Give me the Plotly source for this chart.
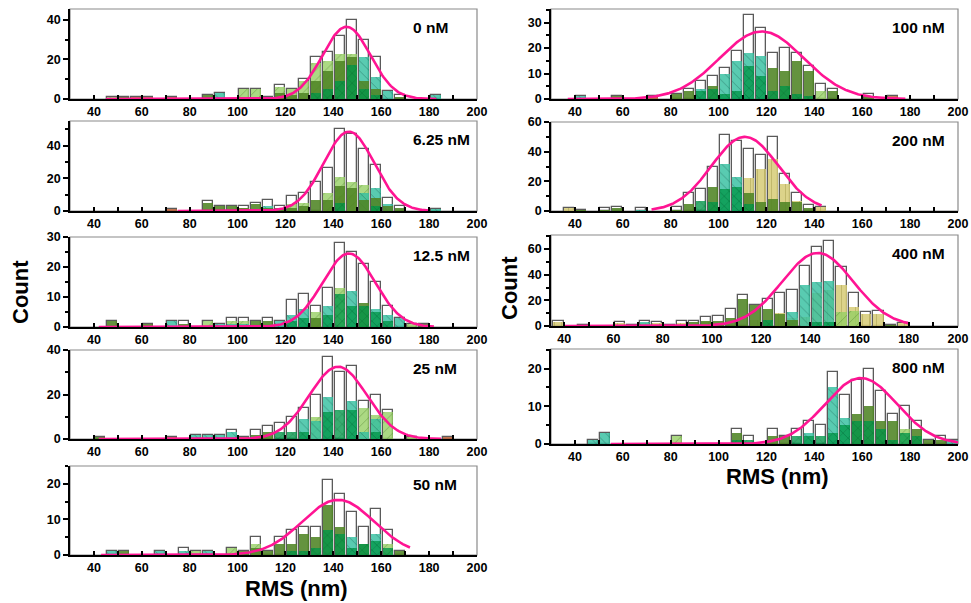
import numpy as np
import plotly.graph_objects as go

# Histogram bins: left edges 35 ... 195 nm, 5 nm wide (33 bins)
BIN_LEFT = list(range(35, 200, 5))

#            35 40 45 50 55 60 65 70 75 80 | 85 90 95 100 ... 130 | 135 ... 180 | 185 190 195
# ---------------- 0 nM ----------------
TOTAL_0 = [0, 0, 1, 1, 1, 1, 0, 1, 0, 0, 2, 3, 0, 5, 5, 1, 7, 5, 10, 21, 24, 32, 40, 30, 21, 4, 2, 0, 0, 2, 0, 0, 0]
LG_0    = [0, 0, 1, 0, 0, 0, 0, 0, 0, 0, 0, 0, 0, 5, 5, 0, 6, 5, 9, 18, 19, 23, 23, 0, 0, 0, 0, 0, 0, 0, 0, 0, 0]
TEAL_0  = [0, 0, 0, 0, 0, 0, 0, 0, 0, 0, 0, 3, 0, 0, 0, 0, 0, 0, 0, 0, 0, 0, 0, 21, 11, 4, 0, 0, 0, 2, 0, 0, 0]
OLIVE_0 = [0, 0, 0, 1, 0, 0, 0, 0, 0, 0, 2, 0, 0, 1, 1, 1, 3, 2, 3, 9, 14, 19, 21, 9, 5, 0, 1, 0, 0, 0, 0, 0, 0]
DARK_0  = [0, 0, 0, 0, 0, 0, 0, 0, 0, 0, 0, 0, 0, 0, 0, 0, 0, 0, 0, 3, 5, 9, 17, 5, 2, 0, 0, 0, 0, 0, 0, 0, 0]
RUST_0  = [0, 0, 0, 0, 1, 1, 0, 1, 0, 0, 0, 0, 0, 0, 0, 0, 0, 0, 0, 0, 0, 0, 0, 0, 0, 0, 0, 0, 0, 0, 0, 0, 0]

# ---------------- 6.25 nM ----------------
TOTAL_625 = [0, 0, 0, 0, 0, 0, 0, 1, 0, 0, 6, 3, 3, 3, 5, 7, 3, 9, 11, 18, 26, 50, 47, 38, 28, 8, 3, 0, 0, 1, 0, 0, 0]
LG_625    = [0, 0, 0, 0, 0, 0, 0, 0, 0, 0, 0, 0, 0, 0, 0, 0, 0, 4, 5, 0, 11, 21, 18, 16, 0, 0, 0, 0, 0, 0, 0, 0, 0]
TEAL_625  = [0, 0, 0, 0, 0, 0, 0, 0, 0, 0, 0, 0, 0, 0, 0, 3, 0, 0, 0, 0, 0, 0, 0, 11, 14, 4, 0, 0, 0, 1, 0, 0, 0]
OLIVE_625 = [0, 0, 0, 0, 0, 0, 0, 0, 0, 0, 5, 3, 3, 2, 4, 2, 2, 2, 3, 7, 7, 15, 14, 7, 8, 3, 2, 0, 0, 0, 0, 0, 0]
KHAKI_625 = [0, 0, 0, 0, 0, 0, 0, 0, 0, 0, 0, 0, 0, 2, 0, 0, 0, 0, 0, 0, 0, 9, 10, 6, 0, 0, 0, 0, 0, 0, 0, 0, 0]
DARK_625  = [0, 0, 0, 0, 0, 0, 0, 0, 0, 0, 0, 0, 0, 0, 0, 0, 0, 0, 0, 0, 0, 5, 0, 0, 3, 0, 0, 0, 0, 0, 0, 0, 0]
RUST_625  = [0, 0, 0, 0, 0, 0, 0, 1, 0, 0, 0, 0, 0, 0, 0, 0, 0, 0, 0, 0, 0, 0, 0, 0, 0, 0, 0, 0, 0, 0, 0, 0, 0]

# ---------------- 12.5 nM ----------------
TOTAL_125 = [0, 0, 2, 0, 0, 1, 0, 2, 2, 0, 2, 1, 3, 3, 2, 3, 2, 9, 11, 7, 13, 28, 25, 21, 15, 7, 3, 1, 1, 0, 0, 0, 0]
LG_125    = [0, 0, 0, 0, 0, 0, 0, 0, 0, 0, 2, 0, 2, 2, 0, 0, 0, 0, 0, 5, 0, 13, 0, 0, 0, 0, 0, 1, 0, 0, 0, 0, 0]
TEAL_125  = [0, 0, 0, 0, 0, 0, 0, 2, 0, 0, 0, 1, 1, 1, 0, 0, 2, 4, 6, 0, 7, 0, 12, 0, 6, 4, 3, 0, 0, 0, 0, 0, 0]
OLIVE_125 = [0, 0, 2, 0, 0, 1, 0, 0, 1, 0, 0, 0, 0, 0, 2, 2, 0, 0, 0, 3, 0, 0, 0, 8, 0, 0, 0, 0, 1, 0, 0, 0, 0]
DARK_125  = [0, 0, 0, 0, 0, 0, 0, 0, 0, 0, 0, 0, 0, 0, 0, 0, 0, 2, 3, 0, 4, 11, 7, 7, 5, 2, 0, 0, 0, 0, 0, 0, 0]

# ---------------- 25 nM ----------------
TOTAL_25 = [0, 1, 0, 0, 0, 0, 0, 1, 0, 2, 2, 2, 4, 1, 4, 6, 7, 10, 14, 20, 37, 30, 33, 17, 20, 13, 0, 1, 0, 0, 1, 0, 0]
LG_25    = [0, 0, 0, 0, 0, 0, 0, 0, 0, 0, 0, 0, 0, 0, 0, 0, 0, 0, 0, 10, 0, 0, 0, 14, 11, 12, 0, 1, 0, 0, 0, 0, 0]
TEAL_25  = [0, 0, 0, 0, 0, 0, 0, 0, 0, 2, 2, 2, 3, 0, 0, 0, 0, 0, 9, 8, 19, 0, 17, 3, 9, 0, 0, 0, 0, 0, 0, 0, 0]
OLIVE_25 = [0, 1, 0, 0, 0, 0, 0, 0, 0, 0, 0, 0, 0, 0, 2, 3, 0, 0, 0, 0, 0, 0, 0, 0, 0, 0, 0, 0, 0, 0, 0, 0, 0]
DARK_25  = [0, 0, 0, 0, 0, 0, 0, 0, 0, 0, 0, 0, 0, 0, 0, 0, 3, 3, 3, 0, 12, 13, 13, 0, 3, 0, 0, 0, 0, 0, 0, 0, 0]
RUST_25  = [0, 0, 0, 0, 0, 0, 0, 1, 0, 0, 0, 0, 0, 1, 0, 0, 0, 0, 0, 0, 0, 0, 0, 0, 0, 0, 0, 0, 0, 0, 1, 0, 0]

# ---------------- 50 nM ----------------
TOTAL_50 = [0, 0, 1, 1, 0, 0, 1, 0, 2, 1, 1, 0, 2, 1, 5, 1, 5, 7, 8, 8, 21, 17, 12, 8, 13, 7, 1, 0, 0, 0, 0, 0, 0]
LG_50    = [0, 0, 0, 0, 0, 0, 0, 0, 0, 1, 0, 0, 2, 0, 3, 0, 0, 0, 0, 0, 0, 0, 0, 0, 0, 3, 0, 0, 0, 0, 0, 0, 0]
TEAL_50  = [0, 0, 1, 0, 0, 0, 1, 0, 1, 0, 1, 0, 0, 0, 0, 0, 0, 0, 0, 0, 0, 0, 5, 0, 6, 0, 0, 0, 0, 0, 0, 0, 0]
OLIVE_50 = [0, 0, 0, 1, 0, 0, 0, 0, 0, 0, 0, 0, 0, 1, 2, 1, 3, 3, 6, 5, 14, 8, 0, 3, 0, 0, 1, 0, 0, 0, 0, 0, 0]
DARK_50  = [0, 0, 0, 0, 0, 0, 0, 0, 0, 0, 0, 0, 0, 0, 0, 0, 0, 1, 1, 2, 7, 6, 2, 3, 4, 2, 0, 0, 0, 0, 0, 0, 0]

# ---------------- 100 nM ----------------
TOTAL_100 = [0, 1, 0, 0, 1, 0, 0, 1, 0, 2, 4, 7, 9, 12, 19, 33, 28, 18, 20, 18, 13, 6, 4, 0, 0, 2, 0, 1, 0, 0, 0, 0, 0]
LG_100    = [0, 0, 0, 0, 0, 0, 0, 0, 0, 0, 0, 0, 0, 0, 0, 0, 0, 0, 0, 0, 0, 3, 0, 0, 0, 0, 0, 0, 0, 0, 0, 0, 0]
TEAL_100  = [0, 1, 0, 0, 0, 0, 0, 0, 0, 0, 0, 4, 0, 10, 15, 18, 17, 0, 0, 0, 0, 0, 0, 0, 0, 0, 0, 0, 0, 0, 0, 0, 0]
OLIVE_100 = [0, 0, 0, 0, 1, 0, 0, 0, 0, 2, 3, 0, 5, 0, 0, 0, 0, 12, 11, 15, 11, 0, 3, 0, 0, 1, 0, 0, 0, 0, 0, 0, 0]
DARK_100  = [0, 0, 0, 0, 0, 0, 0, 0, 0, 0, 0, 3, 4, 2, 3, 13, 9, 3, 5, 2, 1, 0, 0, 0, 0, 0, 0, 0, 0, 0, 0, 0, 0]
RUST_100  = [0, 0, 0, 0, 0, 0, 0, 1, 0, 0, 0, 0, 0, 0, 0, 0, 0, 0, 0, 0, 0, 0, 0, 0, 0, 0, 0, 1, 0, 0, 0, 0, 0]

# ---------------- 200 nM ----------------
TOTAL_200 = [2, 1, 0, 2, 3, 0, 2, 0, 0, 3, 12, 15, 30, 51, 47, 42, 38, 50, 25, 12, 4, 3, 0, 0, 0, 0, 0, 0, 0, 0, 0, 0, 0]
KHAKI_200 = [2, 0, 0, 0, 0, 0, 0, 0, 0, 0, 0, 0, 0, 0, 0, 22, 28, 35, 18, 7, 0, 3, 0, 0, 0, 0, 0, 0, 0, 0, 0, 0, 0]
TEAL_200  = [0, 0, 0, 0, 0, 0, 1, 0, 0, 0, 0, 0, 0, 32, 23, 0, 0, 0, 0, 0, 0, 0, 0, 0, 0, 0, 0, 0, 0, 0, 0, 0, 0]
OLIVE_200 = [0, 1, 0, 1, 2, 0, 0, 0, 0, 1, 5, 0, 16, 0, 0, 12, 6, 8, 6, 6, 2, 0, 0, 0, 0, 0, 0, 0, 0, 0, 0, 0, 0]
DARK_200  = [0, 0, 0, 0, 0, 0, 0, 0, 0, 0, 0, 7, 6, 15, 16, 5, 0, 0, 0, 0, 0, 0, 0, 0, 0, 0, 0, 0, 0, 0, 0, 0, 0]

# ---------------- 400 nM ----------------
TOTAL_400 = [4, 0, 1, 0, 0, 3, 1, 4, 3, 1, 4, 4, 7, 8, 13, 24, 16, 21, 26, 28, 47, 62, 66, 46, 26, 11, 12, 1, 2, 0, 0, 0, 0]
KHAKI_400 = [3, 0, 0, 0, 0, 2, 0, 2, 2, 0, 2, 0, 3, 0, 0, 0, 5, 0, 10, 6, 7, 26, 28, 32, 15, 9, 9, 0, 2, 0, 0, 0, 0]
TEAL_400  = [0, 0, 0, 0, 0, 0, 0, 3, 0, 0, 0, 0, 0, 0, 0, 0, 0, 0, 0, 11, 32, 34, 35, 0, 0, 0, 0, 0, 0, 0, 0, 0, 0]
OLIVE_400 = [0, 0, 1, 0, 0, 0, 1, 0, 0, 1, 0, 3, 4, 4, 6, 21, 16, 13, 9, 5, 0, 0, 0, 0, 0, 0, 0, 1, 0, 0, 0, 0, 0]
LG_400    = [0, 0, 0, 0, 0, 0, 0, 0, 0, 0, 0, 0, 0, 0, 0, 0, 0, 0, 0, 0, 0, 0, 0, 11, 12, 0, 0, 0, 0, 0, 0, 0, 0]
DARK_400  = [0, 0, 0, 0, 0, 0, 0, 0, 0, 0, 0, 0, 0, 0, 0, 0, 0, 5, 0, 0, 0, 3, 3, 0, 0, 0, 0, 0, 0, 0, 0, 0, 0]

# ---------------- 800 nM ----------------
TOTAL_800 = [0, 0, 1, 3, 0, 0, 0, 0, 0, 2, 0, 0, 0, 0, 4, 2, 0, 4, 2, 4, 6, 5, 19, 13, 17, 20, 14, 8, 10, 6, 1, 2, 1]
TEAL_800  = [0, 0, 1, 3, 0, 0, 0, 0, 0, 0, 0, 0, 0, 0, 0, 0, 0, 0, 0, 0, 3, 0, 15, 7, 0, 0, 0, 0, 0, 0, 0, 0, 1]
LG_800    = [0, 0, 0, 0, 0, 0, 0, 0, 0, 2, 0, 0, 0, 0, 0, 0, 0, 0, 0, 0, 0, 0, 0, 0, 0, 0, 0, 0, 4, 0, 0, 0, 0]
OLIVE_800 = [0, 0, 0, 0, 0, 0, 0, 0, 0, 0, 0, 0, 0, 0, 3, 0, 0, 2, 2, 0, 0, 0, 0, 0, 8, 10, 6, 6, 0, 4, 1, 1, 0]
DARK_800  = [0, 0, 0, 0, 0, 0, 0, 0, 0, 0, 0, 0, 0, 0, 1, 1, 0, 0, 0, 2, 2, 2, 3, 5, 6, 6, 4, 1, 3, 2, 0, 0, 0]

# Gaussian fits: (amplitude, centre nm, sigma nm) and the span the curve was drawn over
FIT_0,   SPAN_0   = (36.5, 145.5, 10.0), (45, 183)
FIT_625, SPAN_625 = (48.5, 146.5, 10.5), (75, 180)
FIT_125, SPAN_125 = (24.5, 146.5, 11.0), (42, 182)
FIT_25,  SPAN_25  = (32.5, 142.0, 12.0), (42, 185)
FIT_50,  SPAN_50  = (15.5, 142.0, 15.0), (43, 172)
FIT_100, SPAN_100 = (26.5, 118.0, 17.5), (37, 178)
FIT_200, SPAN_200 = (50.0, 111.0, 14.0), (72, 143)
FIT_400, SPAN_400 = (57.0, 143.0, 14.5), (40, 180)
FIT_800, SPAN_800 = (17.5, 159.5, 15.0), (55, 200)

LABELS = ["0 nM", "6.25 nM", "12.5 nM", "25 nM", "50 nM", "100 nM", "200 nM", "400 nM", "800 nM"]

FONT = "Liberation Sans, Arial, sans-serif"
W, H = 971, 603

# drawing styles for each replicate layer
STYLES = {
    "khaki": dict(color="rgba(214,204,118,0.85)", pat="|", fg="rgba(140,130,50,0.8)"),
    "lg":    dict(color="rgba(150,208,100,0.80)", pat="/", fg="rgba(60,115,30,0.85)"),
    "teal":  dict(color="rgba(52,192,160,0.82)", pat="\\", fg="rgba(20,80,70,0.85)"),
    "olive": dict(color="rgba(78,132,36,0.88)", pat="", fg=None),
    "dark":  dict(color="rgba(0,150,72,0.78)", pat="x", fg="rgba(0,60,25,0.8)"),
    "rust":  dict(color="rgba(190,100,60,0.85)", pat="", fg=None),
}
ORDER = ["khaki", "lg", "teal", "olive", "dark", "rust"]

panels = [
    dict(total=TOTAL_0, layers=dict(lg=LG_0, teal=TEAL_0, olive=OLIVE_0, dark=DARK_0, rust=RUST_0),
         fit=FIT_0, span=SPAN_0),
    dict(total=TOTAL_625, layers=dict(khaki=KHAKI_625, lg=LG_625, teal=TEAL_625, olive=OLIVE_625,
                                      dark=DARK_625, rust=RUST_625), fit=FIT_625, span=SPAN_625),
    dict(total=TOTAL_125, layers=dict(lg=LG_125, teal=TEAL_125, olive=OLIVE_125, dark=DARK_125),
         fit=FIT_125, span=SPAN_125),
    dict(total=TOTAL_25, layers=dict(lg=LG_25, teal=TEAL_25, olive=OLIVE_25, dark=DARK_25, rust=RUST_25),
         fit=FIT_25, span=SPAN_25),
    dict(total=TOTAL_50, layers=dict(lg=LG_50, teal=TEAL_50, olive=OLIVE_50, dark=DARK_50),
         fit=FIT_50, span=SPAN_50),
    dict(total=TOTAL_100, layers=dict(lg=LG_100, teal=TEAL_100, olive=OLIVE_100, dark=DARK_100, rust=RUST_100),
         fit=FIT_100, span=SPAN_100),
    dict(total=TOTAL_200, layers=dict(khaki=KHAKI_200, teal=TEAL_200, olive=OLIVE_200, dark=DARK_200),
         fit=FIT_200, span=SPAN_200),
    dict(total=TOTAL_400, layers=dict(khaki=KHAKI_400, lg=LG_400, teal=TEAL_400, olive=OLIVE_400, dark=DARK_400),
         fit=FIT_400, span=SPAN_400),
    dict(total=TOTAL_800, layers=dict(lg=LG_800, teal=TEAL_800, olive=OLIVE_800, dark=DARK_800),
         fit=FIT_800, span=SPAN_800),
]

# panel geometry in pixels: (left, right), top, bottom, y-range top, major / minor y step, x-range start
LEFT_X, RIGHT_X = (70, 477), (551, 958)
geom = [
    (LEFT_X, 9, 99, 45.5, 20, 10, 30),
    (LEFT_X, 121, 211, 55, 20, 10, 30),
    (LEFT_X, 237, 327, 30, 10, 5, 30),
    (LEFT_X, 350, 439, 40, 20, 10, 30),
    (LEFT_X, 466, 555, 25, 10, 5, 30),
    (RIGHT_X, 9, 99, 35.3, 10, 5, 30),
    (RIGHT_X, 122, 211, 60, 20, 10, 30),
    (RIGHT_X, 235, 326, 71, 20, 10, 34.6),
    (RIGHT_X, 349, 444, 25.2, 10, 5, 30),
]


def nz(vals):
    return [v if v > 0 else None for v in vals]


bar_x = [b + 2.7 for b in BIN_LEFT]
fig = go.Figure()
layout_axes = {}
shapes = []
annotations = []
tickfont = dict(family=FONT, size=12.5, color="black", weight="bold")

for i, (p, g) in enumerate(zip(panels, geom), start=1):
    (xl, xr), top, bot, ytop, ymaj, ymin, x0 = g
    sfx = "" if i == 1 else str(i)
    xa, ya = "x" + sfx, "y" + sfx

    fig.add_trace(go.Bar(x=bar_x, y=nz(p["total"]), width=4.2, xaxis=xa, yaxis=ya,
                         marker=dict(color="white", line=dict(color="#5a5a5a", width=1.3)),
                         showlegend=False, hoverinfo="skip"))
    for key in ORDER:
        if key not in p["layers"]:
            continue
        st = STYLES[key]
        marker = dict(color=st["color"], line=dict(width=0))
        if st["pat"]:
            marker["pattern"] = dict(shape=st["pat"], fgcolor=st["fg"], size=7, solidity=0.12,
                                     fillmode="overlay")
        fig.add_trace(go.Bar(x=bar_x, y=nz(p["layers"][key]), width=4.2, xaxis=xa, yaxis=ya,
                             marker=marker, showlegend=False, hoverinfo="skip"))

    amp, mu, sig = p["fit"]
    fx = np.linspace(p["span"][0], p["span"][1], 300)
    fy = amp * np.exp(-((fx - mu) ** 2) / (2 * sig ** 2))
    fig.add_trace(go.Scatter(x=fx, y=fy, mode="lines", xaxis=xa, yaxis=ya,
                             line=dict(color="#ff1493", width=2.6), showlegend=False, hoverinfo="skip"))

    layout_axes["xaxis" + sfx] = dict(
        domain=[xl / W, xr / W], range=[x0, 200], anchor=ya, automargin=False,
        showline=True, linecolor="black", linewidth=1.5, mirror=False,
        showgrid=False, zeroline=False,
        ticks="inside", ticklen=4, tickwidth=2.2, tickcolor="black",
        tick0=0, dtick=20,
        minor=dict(dtick=10, tick0=0, ticks="inside", ticklen=4, tickwidth=2.2, tickcolor="black", showgrid=False),
        tickfont=tickfont)
    layout_axes["yaxis" + sfx] = dict(
        domain=[1 - bot / H, 1 - top / H], range=[0, ytop], anchor=xa, automargin=False,
        showline=True, linecolor="black", linewidth=1.5,
        showgrid=False, zeroline=False,
        ticks="outside", ticklen=5, tickwidth=1.6, tickcolor="black",
        tick0=0, dtick=ymaj,
        minor=dict(dtick=ymin, tick0=0, ticks="outside", ticklen=3, tickwidth=1.6, tickcolor="black", showgrid=False),
        tickfont=tickfont)
    shapes.append(dict(type="rect", xref=xa + " domain", yref=ya + " domain",
                       x0=0, x1=1, y0=0, y1=1, line=dict(color="#8a8a8a", width=1.2), layer="below"))

    lx = 411 if xl == 70 else 890
    annotations.append(dict(text=LABELS[i - 1], xref="paper", yref="paper",
                            x=lx / W, y=1 - (top + 18.5) / H, xanchor="left", yanchor="middle",
                            showarrow=False, font=dict(family=FONT, size=15.5, color="black", weight="bold")))

title_font = dict(family=FONT, size=22, color="black", weight="bold")
annotations += [
    dict(text="RMS (nm)", xref="paper", yref="paper", x=296 / W, y=1 - 588 / H,
         xanchor="center", yanchor="middle", showarrow=False, font=title_font),
    dict(text="RMS (nm)", xref="paper", yref="paper", x=777 / W, y=1 - 477 / H,
         xanchor="center", yanchor="middle", showarrow=False, font=title_font),
    dict(text="Count", xref="paper", yref="paper", x=20 / W, y=1 - 292 / H, textangle=-90,
         xanchor="center", yanchor="middle", showarrow=False, font=title_font),
    dict(text="Count", xref="paper", yref="paper", x=509 / W, y=1 - 288 / H, textangle=-90,
         xanchor="center", yanchor="middle", showarrow=False, font=title_font),
]

fig.update_layout(
    width=W, height=H, margin=dict(l=0, r=0, t=0, b=0, autoexpand=False),
    paper_bgcolor="white", plot_bgcolor="white",
    barmode="overlay", bargap=0, showlegend=False,
    shapes=shapes, annotations=annotations,
    font=dict(family=FONT, color="black"),
    **layout_axes,
)

fig.write_html("out.html")
